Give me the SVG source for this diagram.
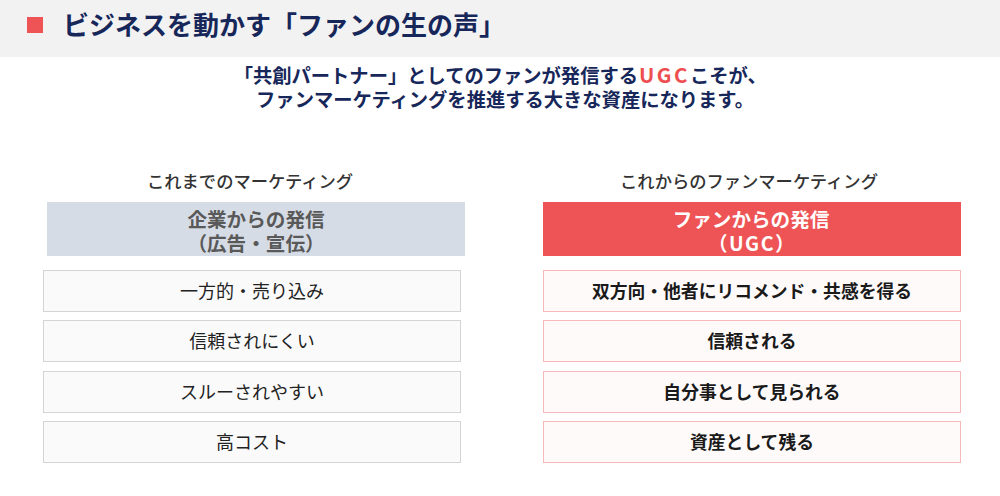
<svg xmlns="http://www.w3.org/2000/svg" width="1000" height="496" viewBox="0 0 1000 496">
<style>
text { font-family: "Noto Sans CJK JP", "Noto Sans", sans-serif; text-anchor: middle; }
.title { font-size: 26px; font-weight: 700; fill: #17275a; text-anchor: start; }
.sub { font-size: 19.3px; font-weight: 700; fill: #17275a; }
.red { fill: #ee4e50; font-size: 20.5px; letter-spacing: 2.5px; }
.col { font-size: 17.3px; font-weight: 500; fill: #333333; }
.lhead { fill: #d6dce5; }
.lheadt { font-size: 19.6px; font-weight: 700; fill: #595959; }
.rhead { fill: #ee5455; }
.rheadt { font-size: 19.6px; font-weight: 700; fill: #ffffff; }
.litem { fill: #fafafa; stroke: #d4d4d4; stroke-width: 1; }
.litemt { font-size: 18px; font-weight: 400; fill: #222222; }
.ritem { fill: #fffafa; stroke: #f7b9b9; stroke-width: 1; }
.ritemt { font-size: 17.8px; font-weight: 700; fill: #1a1a1a; }
</style>
<rect x="0" y="0" width="1000" height="496" fill="#ffffff"/>
<g id="header">
<rect x="0" y="0" width="1000" height="57" fill="#f2f2f2"/>
<rect x="27" y="17" width="16" height="16" fill="#ee5455"/>
<text class="title" x="63" y="35">ビジネスを動かす「ファンの生の声」</text>
</g>
<g id="subtitle">
<text class="sub" x="638" y="83" style="text-anchor:end">「共創パートナー」としてのファンが発信する</text>
<text class="sub red" x="639" y="83" style="text-anchor:start">UGC</text>
<text class="sub" x="690" y="83" style="text-anchor:start">こそが、</text>
<text class="sub" x="505" y="107">ファンマーケティングを推進する大きな資産になります。</text>
</g>
<g id="left-column">
<text class="col" x="250" y="187.5">これまでのマーケティング</text>
<g id="left-head">
<rect class="lhead" x="47" y="202" width="418" height="54"/>
<text class="lheadt" x="256" y="226.5">企業からの発信</text>
<text class="lheadt" x="256" y="250.5">（広告・宣伝）</text>
</g>
<g id="left-item-1"><rect class="litem" x="43.5" y="270.5" width="417" height="41"/><text class="litemt" x="252" y="298">一方的・売り込み</text></g>
<g id="left-item-2"><rect class="litem" x="43.5" y="320.5" width="417" height="41"/><text class="litemt" x="252" y="348">信頼されにくい</text></g>
<g id="left-item-3"><rect class="litem" x="43.5" y="371.5" width="417" height="41"/><text class="litemt" x="252" y="399">スルーされやすい</text></g>
<g id="left-item-4"><rect class="litem" x="43.5" y="421.5" width="417" height="41"/><text class="litemt" x="252" y="449">高コスト</text></g>
</g>
<g id="right-column">
<text class="col" x="749" y="187.5">これからのファンマーケティング</text>
<g id="right-head">
<rect class="rhead" x="543" y="202" width="418" height="54"/>
<text class="rheadt" x="751" y="226.5">ファンからの発信</text>
<text class="rheadt" x="752" y="250.5" style="letter-spacing:1.5px">（UGC）</text>
</g>
<g id="right-item-1"><rect class="ritem" x="543.5" y="270.5" width="417" height="41"/><text class="ritemt" x="752" y="298">双方向・他者にリコメンド・共感を得る</text></g>
<g id="right-item-2"><rect class="ritem" x="543.5" y="320.5" width="417" height="41"/><text class="ritemt" x="752" y="348">信頼される</text></g>
<g id="right-item-3"><rect class="ritem" x="543.5" y="371.5" width="417" height="41"/><text class="ritemt" x="752" y="399">自分事として見られる</text></g>
<g id="right-item-4"><rect class="ritem" x="543.5" y="421.5" width="417" height="41"/><text class="ritemt" x="752" y="449">資産として残る</text></g>
</g>
<g id="connectors"></g>
</svg>
